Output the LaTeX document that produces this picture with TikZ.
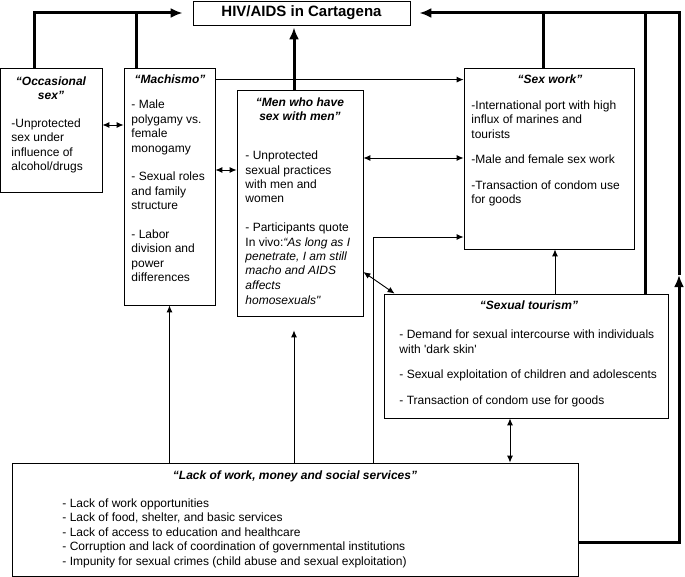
\documentclass[tikz,border=0pt]{standalone}
\usepackage{fontspec}
\setmainfont{Liberation Sans}
\usetikzlibrary{arrows.meta,positioning}

\begin{document}
\begin{tikzpicture}[x=1pt,y=-1pt,
		box/.style={shape=rectangle,draw,line width=0.8pt,inner sep=0pt},
		head/.style={inner sep=0pt,align=center,anchor=base,font=\fontsize{12}{14.5}\selectfont\bfseries\itshape},
		txt/.style={inner sep=0pt,align=left,anchor=base west,font=\fontsize{12}{14.5}\selectfont},
		heavy/.style={line width=3pt,>={Latex[length=12pt,width=10pt]}},
		>={Latex[length=7pt,width=6pt]},line width=0.9pt]
	\useasboundingbox (0,0) rectangle (685,577);

	\node[box,minimum width=217pt,minimum height=24pt,font=\fontsize{15}{18}\selectfont\bfseries] (hiv) at (301.5,13) {HIV/AIDS in Cartagena};
	\node[box,minimum width=102pt,minimum height=124pt] (occ) at (51,130) {};
	\node[box,minimum width=91pt,minimum height=237pt] (mach) at (169.5,186.5) {};
	\node[box,minimum width=126pt,minimum height=226pt] (msm) at (300,203) {};
	\node[box,minimum width=170pt,minimum height=181pt] (sw) at (549,158.5) {};
	\node[box,minimum width=284pt,minimum height=124pt] (tour) at (526,356) {};
	\node[box,minimum width=566pt,minimum height=113pt] (lack) at (295,519.5) {};
	\coordinate (rmid) at (679,275);

	\node[head] (occhead) at (51,100) {“Occasional\\sex”};
	\node[txt] (occtxt) at (11,171) {-Unprotected\\sex under\\influence of\\alcohol/drugs};

	\node[head] (machhead) at (170,84) {“Machismo”};
	\node[txt] (machtxt) at (131,282) {- Male\\polygamy vs.\\female\\monogamy\\[14pt]
		- Sexual roles\\and family\\structure\\[14pt]
		- Labor\\division and\\power\\differences};

	\node[head] (msmhead) at (300,121) {“Men who have\\sex with men”};
	\node[txt] (msmtxt) at (245,304) {- Unprotected\\sexual practices\\with men and\\women\\[14pt]
		- Participants quote\\In vivo:\textit{“As long as I}\\\textit{penetrate, I am still}\\\textit{macho and AIDS}\\\textit{affects}\\\textit{homosexuals\textquotedbl}};

	\node[head] (swhead) at (550,84) {“Sex work”};
	\node[txt] (swtxt) at (471,204) {-International port with high\\influx of marines and\\tourists\\[11pt]
		-Male and female sex work\\[11pt]
		-Transaction of condom use\\for goods};

	\node[head] (tourhead) at (529,309) {“Sexual tourism”};
	\node[txt] (tourtxt) at (399,404) {- Demand for sexual intercourse with individuals\\with \textquotesingle dark skin\textquotesingle\\[11pt]
		- Sexual exploitation of children and adolescents\\[11pt]
		- Transaction of condom use for goods};

	\node[head] (lackhead) at (295,479) {“Lack of work, money and social services”};
	\node[txt] (lacktxt) at (62,565) {- Lack of work opportunities\\- Lack of food, shelter, and basic services\\- Lack of access to education and healthcare\\
		- Corruption and lack of coordination of governmental institutions\\- Impunity for sexual crimes (child abuse and sexual exploitation)};

	\draw [heavy,->,shorten >=10pt] ([xshift=-17pt]occ.north) |- (hiv.west);
	\draw [heavy] ([xshift=-33.5pt]mach.north) -- ([xshift=-33.5pt]mach.north |- hiv.west);
	\draw [heavy,->,shorten >=2pt] ([xshift=-6pt]msm.north) -- ([xshift=-6pt]msm.north |- hiv.south);
	\draw [heavy] ([xshift=-6pt]sw.north) -- ([xshift=-6pt]sw.north |- hiv.east);
	\draw [heavy] ([xshift=119pt]tour.north) -- ([xshift=119pt]tour.north |- hiv.east);
	\draw [heavy,->] ([yshift=-22.5pt]lack.east) -| (rmid);
	\draw [heavy,->,shorten >=9pt] (rmid) |- (hiv.east);

	\draw [<->] ([yshift=5pt]occ.east) -- ([yshift=5pt]occ.east -| mach.west);
	\draw [->] ([yshift=-12pt]mach.north east) -- ([yshift=-12pt]sw.north west);
	\draw [<->] ([yshift=16.5pt]mach.east) -- ([yshift=16.5pt]mach.east -| msm.west);
	\draw [<->] ([yshift=45pt]msm.east) -- ([yshift=45pt]msm.east -| sw.west);
	\draw [<->] ([yshift=-69pt]msm.east) -- ([xshift=11pt]tour.north west);
	\draw [->] ([xshift=78pt]lack.north) |- ([yshift=-78.5pt]sw.west);
	\draw [->] ([xshift=29pt]tour.north) -- ([xshift=29pt]tour.north |- sw.south);
	\draw [->] (mach.south |- lack.north) -- (mach.south);
	\draw [->,shorten >=14pt] ([xshift=-6pt]msm.south |- lack.north) -- ([xshift=-6pt]msm.south);
	\draw [<->] ([xshift=-16pt]tour.south) -- ([xshift=-16pt]tour.south |- lack.north);
\end{tikzpicture}
\end{document}
